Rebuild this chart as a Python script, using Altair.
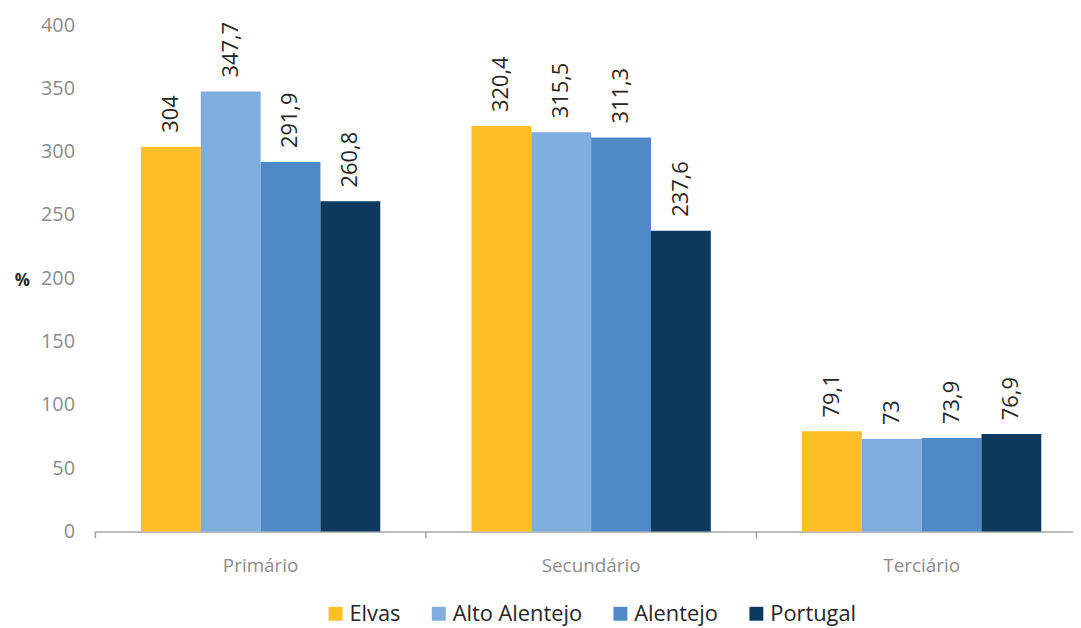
import altair as alt
import pandas as pd

sectors = ["Primário", "Secundário", "Terciário"]
regions = ["Elvas", "Alto Alentejo", "Alentejo", "Portugal"]
elvas = [304, 320.4, 79.1]
alto_alentejo = [347.7, 315.5, 73]
alentejo = [291.9, 311.3, 73.9]
portugal = [260.8, 237.6, 76.9]
colors = ["#FDBE26", "#7FADDD", "#4F89C8", "#0B3A5E"]

series = [elvas, alto_alentejo, alentejo, portugal]
rows = []
for r, vals in zip(regions, series):
    for s, v in zip(sectors, vals):
        rows.append({"setor": s, "regiao": r, "valor": v,
                     "rotulo": (f"{v:g}").replace(".", ",")})
df = pd.DataFrame(rows)

FONT = "Open Sans"
W = 985
P_IN = 0.276
P_OUT = 0.117
STEP = W / (3 - P_IN + 2 * P_OUT)
HALF_GAP = STEP * P_IN / 2

xscale = alt.Scale(domain=sectors, paddingInner=P_IN, paddingOuter=P_OUT, align=0.59, round=False)
yscale = alt.Scale(domain=[0, 400])
offscale = alt.Scale(paddingInner=0, paddingOuter=0)

base = alt.Chart(df)

bars = base.mark_bar().encode(
    x=alt.X("setor:N", scale=xscale, sort=sectors,
            axis=alt.Axis(title=None, labelAngle=0, ticks=False, labelPadding=25,
                          labelFontSize=19, labelColor="#8C8C8C", labelFont=FONT,
                          domainColor="#A6A6A6", domainWidth=1.5)),
    xOffset=alt.XOffset("regiao:N", sort=regions, scale=offscale),
    y=alt.Y("valor:Q", scale=yscale,
            axis=alt.Axis(title="%", titleAngle=0, titleX=-74, titleY=257,
                          titleAlign="center", titleBaseline="middle",
                          titleFontSize=17, titleFontWeight="bold", titleColor="#262626",
                          titleFont=FONT,
                          values=list(range(0, 401, 50)), grid=False, ticks=False,
                          domain=False, labelPadding=21, labelFontSize=20,
                          labelColor="#8C8C8C", labelFont=FONT)),
    color=alt.Color("regiao:N", sort=regions,
                    scale=alt.Scale(domain=regions, range=colors),
                    legend=alt.Legend(title=None, orient="none", direction="horizontal",
                                      legendX=231, legendY=582,
                                      symbolType="square", symbolSize=196,
                                      symbolStrokeWidth=0, symbolOpacity=1,
                                      labelFontSize=22, labelColor="#262626", labelFont=FONT,
                                      columnPadding=27, labelOffset=3)),
)

labels = base.mark_text(angle=270, align="left", baseline="middle", dx=14,
                        fontSize=22, color="#262626", font=FONT).encode(
    x=alt.X("setor:N", scale=xscale, sort=sectors),
    xOffset=alt.XOffset("regiao:N", sort=regions, scale=offscale),
    y=alt.Y("valor:Q", scale=yscale),
    text="rotulo:N",
)

tick_df = pd.DataFrame({"setor": sectors})
ticks = alt.Chart(tick_df).mark_rule(color="#A6A6A6", strokeWidth=1.5, xOffset=-HALF_GAP).encode(
    x=alt.X("setor:N", scale=xscale, sort=sectors, bandPosition=0),
    y=alt.value(510),
    y2=alt.value(517),
)

chart = alt.layer(bars, labels, ticks).properties(
    width=W, height=510,
    autosize=alt.AutoSizeParams(type="none"),
    padding={"left": 88, "top": 15, "right": 0, "bottom": 95},
).configure_view(stroke=None)

chart.save("out.html", embed_options={"renderer": "svg", "actions": False})
